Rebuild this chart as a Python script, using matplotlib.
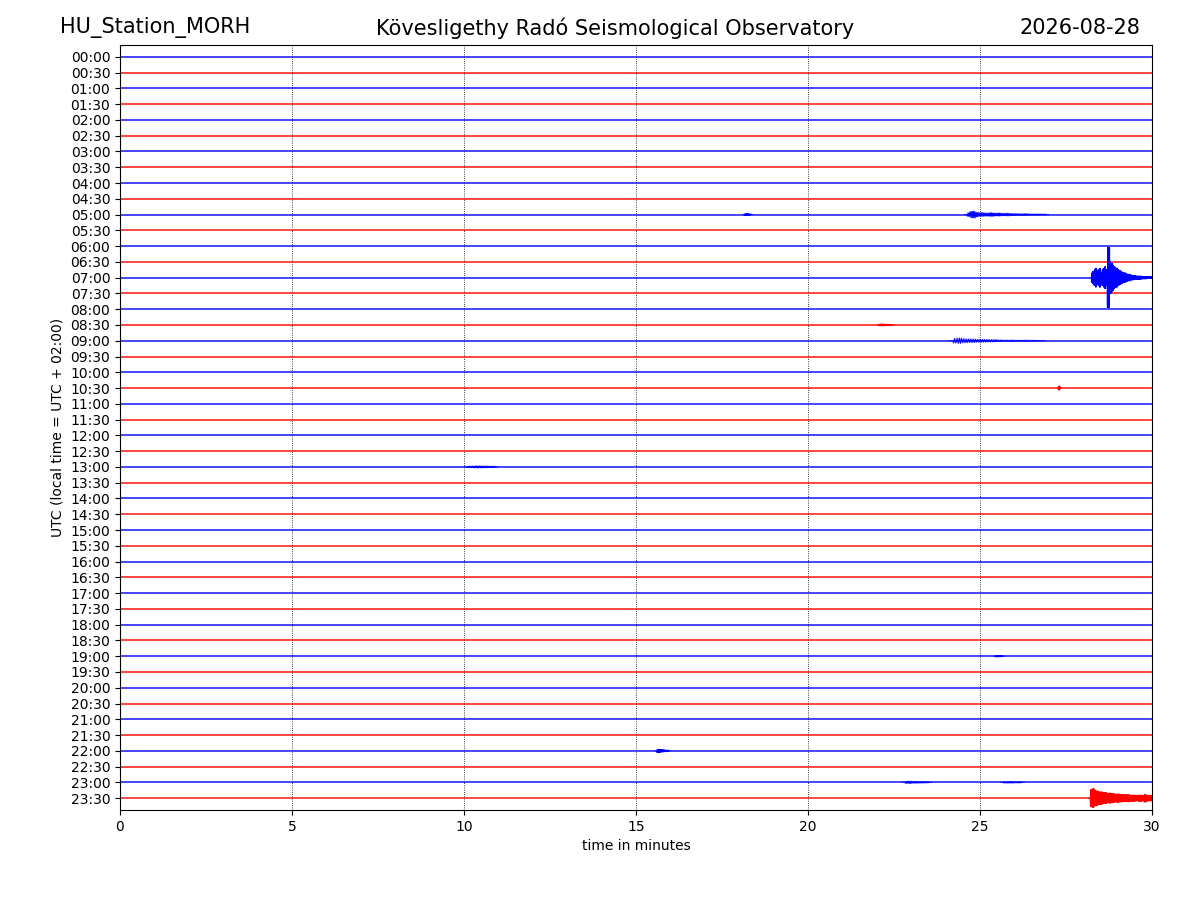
import numpy as np
import matplotlib
matplotlib.use('Agg')
import matplotlib.pyplot as plt

station = "HU_Station_MORH"
observatory = "Kövesligethy Radó Seismological Observatory"
date_str = "2026-08-28"

# 48 half-hour lines, 30 minutes each
row_labels = ["%02d:%02d" % (h, m) for h in range(24) for m in (0, 30)]
row_colors = ["blue", "red"]

# events: (row, start minute, end minute, swing values in row units)
ev_0500_a = [0, 0.05, -0.06, 0.05, -0.04, 0]
ev_0500 = [0, 0.12, -0.2, 0.22, -0.15, 0.12, -0.12, 0.1, -0.1, 0.12, -0.1, 0.09,
           -0.1, 0.08, -0.08, 0.09, -0.07, 0.06, -0.06, 0.05, -0.05, 0.06, -0.05,
           0.04, -0.04, 0.04, -0.04, 0.03, -0.03, 0]
ev_0700 = [0, 0.3, -0.4, 0.5, -0.6, 0.45, -0.5, 0.6, -0.35, 0.5, -0.6, 0.7, -0.5,
           1.9, -1.9, 1.0, -0.9, 0.8, -0.7, 0.6, -0.6, 0.5, -0.45, 0.4, -0.35, 0.3,
           -0.3, 0.25, -0.22, 0.2, -0.2, 0.15, -0.15, 0.12, -0.12, 0.1, -0.1, 0.1,
           -0.1, 0.08, -0.08, 0.08, -0.08, 0.06, -0.06, 0.06, -0.06]
ev_0830 = [0, 0.06, -0.07, 0.06, -0.05, 0.05, -0.04, 0]
ev_0900 = [0, 0.15, -0.18, 0.14, -0.12, 0.12, -0.1, 0.1, -0.09, 0.08, -0.08,
           0.06, -0.05, 0.05, -0.05, 0.04, -0.04, 0.05, -0.04, 0.04, -0.03, 0]
ev_1030 = [0, 0.12, -0.12, 0]
ev_1300 = [0, 0.05, -0.06, 0.07, -0.07, 0.06, -0.06, 0.05, -0.05, 0]
ev_1900 = [0, 0.05, -0.05, 0.04, -0.04, 0]
ev_2200 = [0, 0.1, -0.1, 0.08, -0.07, 0.05, -0.05, 0]
ev_2300_a = [0, 0.07, -0.08, 0.06, -0.06, 0.05, -0.05, 0.04, -0.04, 0]
ev_2300_b = [0, 0.05, -0.05, 0.05, -0.04, 0.04, -0.04, 0]
ev_2330 = [0, 0.55, -0.6, 0.5, -0.45, 0.4, -0.4, 0.35, -0.35, 0.3, -0.32, 0.3,
           -0.28, 0.25, -0.27, 0.25, -0.24, 0.22, -0.22, 0.24, -0.2, 0.2, -0.2,
           0.18, -0.2, 0.2, -0.18, 0.25, -0.2, 0.18, -0.18]

events = [
    (10, 18.1, 18.4, ev_0500_a),
    (10, 24.55, 27.0, ev_0500),
    (14, 28.2, 30.0, ev_0700),
    (17, 22.0, 22.5, ev_0830),
    (18, 24.1, 26.9, ev_0900),
    (21, 27.25, 27.35, ev_1030),
    (26, 10.0, 11.0, ev_1300),
    (38, 25.4, 25.7, ev_1900),
    (44, 15.55, 16.0, ev_2200),
    (46, 22.75, 23.6, ev_2300_a),
    (46, 25.6, 26.3, ev_2300_b),
    (47, 28.15, 30.0, ev_2330),
]

fig = plt.figure(figsize=(12, 9), dpi=100)
ax = fig.add_axes([0.1, 0.1, 0.86, 0.85])

nrows = len(row_labels)
for i in range(nrows):
    c = row_colors[i % 2]
    ax.plot([0, 30], [i, i], color=c, lw=1.2, alpha=0.85)

# each read swing is drawn as a few quick wiggles of that size
sub = 5
for row, t0, t1, vals in events:
    c = row_colors[row % 2]
    env = np.repeat(np.abs(np.array(vals)), sub)
    sign = np.where(np.arange(len(env)) % 2 == 0, 1.0, -1.0)
    t = np.linspace(t0, t1, len(env))
    ax.plot(t, row - env * sign, color=c, lw=0.6)

ax.set_xlim(0, 30)
ax.set_ylim(nrows - 0.25, -0.75)
ax.set_yticks(range(nrows))
ax.set_yticklabels(row_labels)
ax.set_xticks([0, 5, 10, 15, 20, 25, 30])
ax.xaxis.grid(True, linestyle=':', color='black', lw=0.6)
ax.set_xlabel("time in minutes")
ax.set_ylabel("UTC (local time = UTC + 02:00)")

fig.text(0.05, 0.969, station, ha='left', va='center', fontsize=15)
fig.text(0.5125, 0.969, observatory, ha='center', va='center', fontsize=15)
fig.text(0.95, 0.969, date_str, ha='right', va='center', fontsize=15)

fig.savefig("out.png", dpi=100)
